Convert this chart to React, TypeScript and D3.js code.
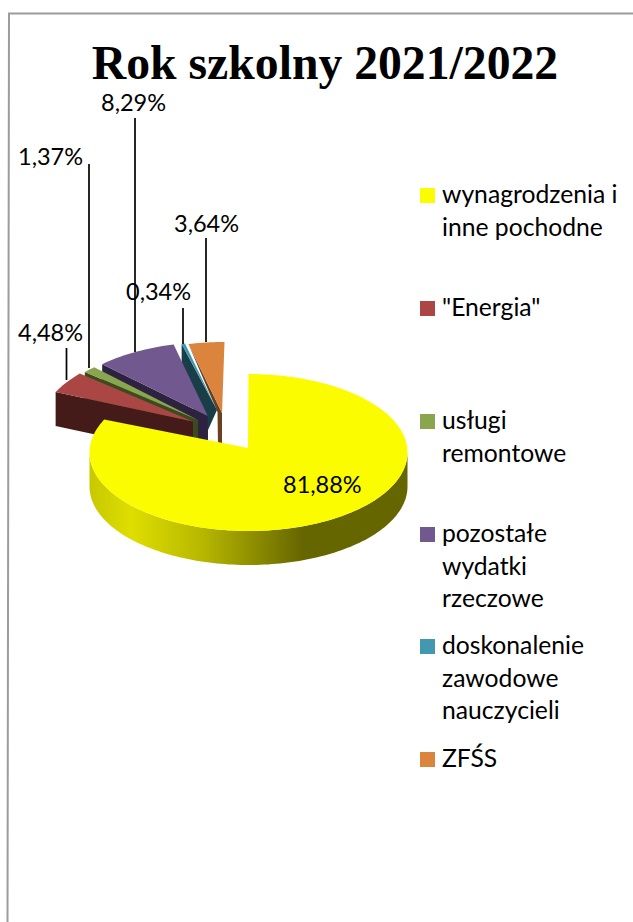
import React from "react";
import * as d3 from "d3";

const title = "Rok szkolny 2021/2022";
const categories = ["wynagrodzenia i inne pochodne", "\"Energia\"", "usługi remontowe", "pozostałe wydatki rzeczowe", "doskonalenie zawodowe nauczycieli", "ZFŚS"];
const values = [81.88, 4.48, 1.37, 8.29, 0.34, 3.64];
const valueLabels = ["81,88%", "4,48%", "1,37%", "8,29%", "0,34%", "3,64%"];
const legendLines = [["wynagrodzenia i", "inne pochodne"], ["\"Energia\""], ["usługi", "remontowe"], ["pozostałe", "wydatki", "rzeczowe"], ["doskonalenie", "zawodowe", "nauczycieli"], ["ZFŚS"]];
const topColors = ["#FCFC00", "#AA4644", "#89A54E", "#71588F", "#4198AF", "#DB843D"];
const wallColors = ["#666600", "#451B1A", "#3C4A1E", "#2D2340", "#1A3E48", "#6B4020"];

// layout of the exploded slices
const RX = 159, RY = 78.5, DEPTH = 34;
const centers = [[248.5, 452.5], [200, 425], [205, 423.5], [213, 420.5], [221, 420], [224.5, 420.5]];
const apexes = [[248, 448], [193, 421.5], [198, 420], [207.7, 416], [217, 410], [222, 413]];
const labelPos = [[283, 493], [18, 341], [18, 165], [101, 111], [126, 300], [174, 232]];
const leaders = [null, [66.5, 348, 380], [89, 164, 368], [135, 118, 352], [183, 308, 344], [206, 238, 342]];
const legendY = [203, 316, 429, 542, 654, 767];
const legendLineStep = 32.7;

const arcs = d3.pie<number>().sort(null).value((d) => d)(values);
const pathOf = d3.line<number[]>().x((p) => p[0]).y((p) => p[1]);

const project = (i: number, a: number, dy = 0) => [centers[i][0] + RX * Math.sin(a), centers[i][1] - RY * Math.cos(a) + dy];
const arcPoints = (i: number, a0: number, a1: number, dy = 0) => {
  const n = Math.max(4, Math.ceil(Math.abs(a1 - a0) * 40));
  return d3.range(n + 1).map((k) => project(i, a0 + ((a1 - a0) * k) / n, dy));
};

const topPath = (i: number) => pathOf([apexes[i], ...arcPoints(i, arcs[i].startAngle, arcs[i].endAngle)]) + "Z";
const wallPath = (i: number) => {
  const s = project(i, arcs[i].startAngle);
  const a = apexes[i];
  if (i === 4) {
    return pathOf([s, a, [208, 430], [208, 446], [s[0], s[1] + DEPTH]]) + "Z";
  }
  if (i === 5) {
    return pathOf([s, a, [a[0], a[1] + DEPTH], [a[0] - 4, a[1] + DEPTH], [a[0] - 4.5, a[1] - 1]]) + "Z";
  }
  return pathOf([s, a, [a[0], a[1] + DEPTH], [s[0], s[1] + DEPTH]]) + "Z";
};
const yellowSide = () => {
  const upper = arcPoints(0, Math.PI / 2, (3 * Math.PI) / 2);
  const lower = arcPoints(0, (3 * Math.PI) / 2, Math.PI / 2, DEPTH);
  return pathOf([...upper, ...lower]) + "Z";
};

const sliceOrder = [5, 4, 3, 2, 1];

export default function App() {
  return (
    <svg width={633} height={922} viewBox="0 0 633 922" style={{ position: "absolute", left: 0, top: 0, background: "#fff" }}>
      <defs>
        <linearGradient id="yellowSide" gradientUnits="userSpaceOnUse" x1={90} x2={407} y1={0} y2={0}>
          <stop offset="0" stopColor="#C8C800" />
          <stop offset="0.13" stopColor="#DEDE00" />
          <stop offset="0.35" stopColor="#B8B800" />
          <stop offset="0.67" stopColor="#666600" />
          <stop offset="1" stopColor="#666600" />
        </linearGradient>
      </defs>
      <path d="M633,13.5H9L7.5,922" fill="none" stroke="#9C9C9C" strokeWidth={2} />
      <text x={325} y={79} textAnchor="middle" fontFamily="Liberation Serif" fontWeight="bold" fontSize={47.7} fill="#000">{title}</text>

      {sliceOrder.map((i) => (
        <g key={categories[i]}>
          <path d={wallPath(i)} fill={wallColors[i]} />
          <path d={topPath(i)} fill={topColors[i]} />
        </g>
      ))}
      <path d={yellowSide()} fill="url(#yellowSide)" />
      <path d={topPath(0)} fill={topColors[0]} />

      {leaders.map((l, i) => l && <line key={i} x1={l[0]} x2={l[0]} y1={l[1]} y2={l[2]} stroke="#000" strokeWidth={1.7} />)}
      {valueLabels.map((t, i) => (
        <text key={t} x={labelPos[i][0]} y={labelPos[i][1]} fontFamily="Lato" fontSize={23.5} fill="#000">{t}</text>
      ))}

      {legendLines.map((lines, i) => (
        <g key={i}>
          <rect x={420} y={legendY[i] - 15} width={15} height={15} fill={topColors[i]} />
          {lines.map((t, k) => (
            <text key={t} x={442} y={legendY[i] + k * legendLineStep} fontFamily="Lato" fontSize={24.7} fill="#000">{t}</text>
          ))}
        </g>
      ))}
    </svg>
  );
}
